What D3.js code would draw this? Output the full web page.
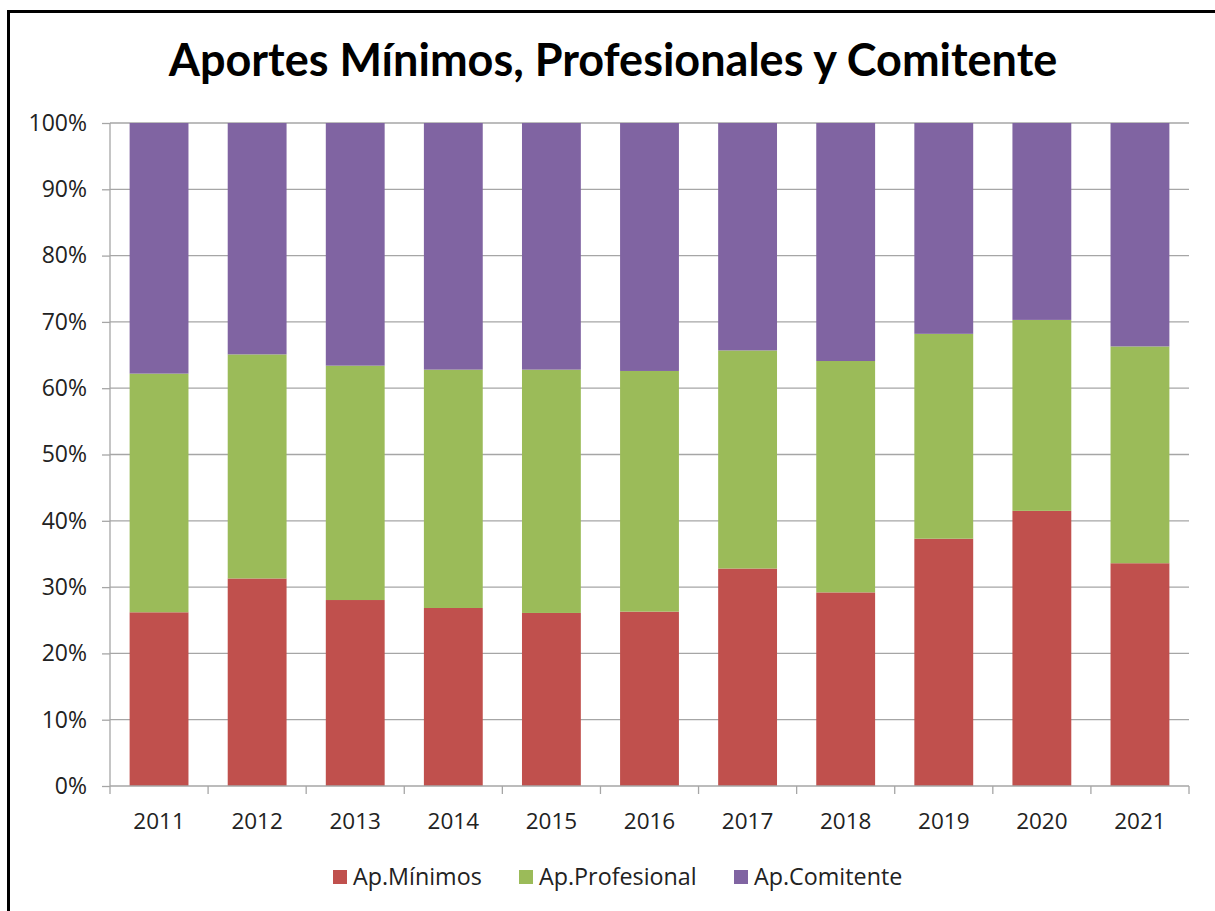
<!DOCTYPE html>
<html><head><meta charset="utf-8">
<script src="https://cdn.jsdelivr.net/npm/d3@7"></script>
<style>body{margin:0;background:#fff}svg{display:block}</style>
</head><body>
<svg id="c" width="1215" height="911"></svg>
<script>
const years = ["2011","2012","2013","2014","2015","2016","2017","2018","2019","2020","2021"];
const minimos = [26.2, 31.3, 28.05, 26.85, 26.1, 26.3, 32.8, 29.2, 37.3, 41.5, 33.6];
const profesional = [36.0, 33.8, 35.35, 35.95, 36.7, 36.3, 32.9, 34.9, 30.9, 28.8, 32.7];
const comitente = years.map((_, i) => 100 - minimos[i] - profesional[i]);
const seriesNames = ["Ap.Mínimos", "Ap.Profesional", "Ap.Comitente"];
const colors = ["#C0504D", "#9BBB59", "#8064A2"];
const yTicks = [0,10,20,30,40,50,60,70,80,90,100];

(function(){
const svg = d3.select("#c");
const pL = 110, pR = 1189, pT = 123, pB = 786;
const x = d3.scaleBand().domain(years).range([pL, pR]).paddingInner(0.4).paddingOuter(0.2);
const y = d3.scaleLinear().domain([0, 100]).range([pB, pT]);
const font = "'Open Sans', sans-serif";

// frame
svg.append("line").attr("x1", 8).attr("x2", 1215).attr("y1", 11.5).attr("y2", 11.5).attr("stroke", "#000").attr("stroke-width", 3);
svg.append("line").attr("x1", 8.5).attr("x2", 8.5).attr("y1", 10).attr("y2", 911).attr("stroke", "#000").attr("stroke-width", 3);

// title
svg.append("text").attr("x", 613).attr("y", 76).attr("text-anchor", "middle")
  .attr("font-family", "Lato, 'Open Sans', sans-serif").attr("font-weight", "bold").attr("font-size", 45)
  .attr("fill", "#000").text("Aportes Mínimos, Profesionales y Comitente");

// gridlines
svg.append("g").selectAll("line").data(yTicks.filter(d => d > 0)).join("line")
  .attr("x1", pL).attr("x2", pR).attr("y1", d => y(d)).attr("y2", d => y(d))
  .attr("stroke", "#a6a6a6").attr("stroke-width", 1.3);

// stacked bars
const data = years.map((yr, i) => ({year: yr, a: minimos[i], b: profesional[i], c: comitente[i]}));
const stack = d3.stack().keys(["a", "b", "c"])(data);
svg.append("g").selectAll("g").data(stack).join("g").attr("fill", (d, i) => colors[i])
  .selectAll("rect").data(d => d).join("rect")
  .attr("x", d => x(d.data.year)).attr("width", x.bandwidth())
  .attr("y", d => y(d[1])).attr("height", d => y(d[0]) - y(d[1]));

// y axis
const yAxis = d3.axisLeft(y).tickValues(yTicks).tickFormat(d => d + "%").tickSize(8).tickPadding(15);
const gy = svg.append("g").attr("transform", `translate(${pL},0)`).call(yAxis);
gy.select(".domain").attr("stroke", "#a6a6a6").attr("stroke-width", 1.3).attr("d", `M0,${pT}V${pB}`);
gy.selectAll(".tick line").attr("stroke", "#a6a6a6").attr("stroke-width", 1.3);
gy.selectAll("text").attr("font-family", font).attr("font-size", 23).attr("fill", "#222");

// x axis
const step = x.step();
const gx = svg.append("g").attr("transform", `translate(0,${pB})`);
gx.append("line").attr("x1", pL).attr("x2", pR).attr("stroke", "#a6a6a6").attr("stroke-width", 1.3);
gx.selectAll("line.tk").data(d3.range(years.length + 1)).join("line").attr("class", "tk")
  .attr("x1", i => pL + i * step).attr("x2", i => pL + i * step).attr("y1", 0).attr("y2", 8)
  .attr("stroke", "#a6a6a6").attr("stroke-width", 1.3);
gx.selectAll("text").data(years).join("text")
  .attr("x", d => x(d) + x.bandwidth() / 2).attr("y", 43).attr("text-anchor", "middle")
  .attr("font-family", font).attr("font-size", 22.5).attr("fill", "#222").text(d => d);

// legend
const legendX = [333, 519, 734];
const lg = svg.append("g");
seriesNames.forEach((n, i) => {
  lg.append("rect").attr("x", legendX[i]).attr("y", 870).attr("width", 14).attr("height", 14).attr("fill", colors[i]);
  lg.append("text").attr("x", legendX[i] + 20).attr("y", 885)
    .attr("font-family", font).attr("font-size", 23.3).attr("fill", "#222").text(n);
});
})();
</script>
</body></html>
